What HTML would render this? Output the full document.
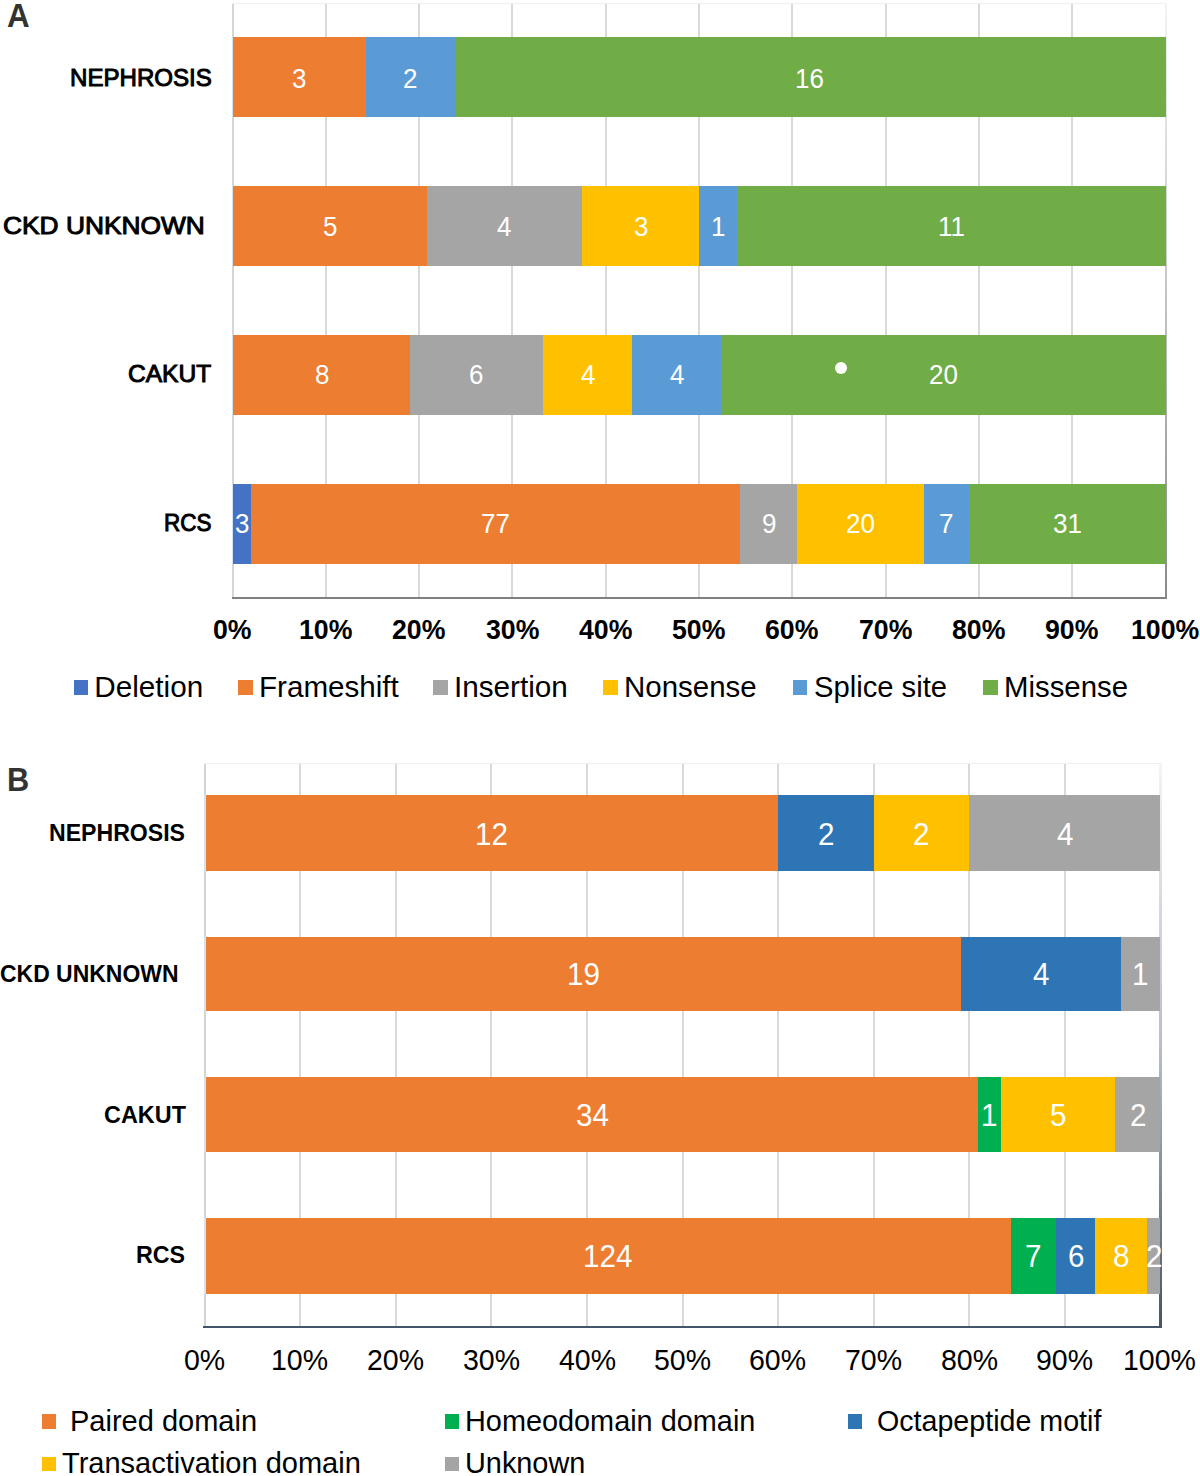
<!DOCTYPE html>
<html><head><meta charset="utf-8"><style>
html,body{margin:0;padding:0;background:#fff;}
body{width:1200px;height:1476px;position:relative;overflow:hidden;font-family:"Liberation Sans",sans-serif;}
body>div{position:absolute;}
.t{line-height:1;white-space:nowrap;transform-origin:0 0;}
</style></head><body>
<div style="left:232.00px;top:3.00px;width:935.00px;height:1.20px;background:#eef0f6;"></div>
<div style="left:324.72px;top:4.00px;width:2.00px;height:592.50px;background:#d9d9d9;"></div>
<div style="left:418.04px;top:4.00px;width:2.00px;height:592.50px;background:#d9d9d9;"></div>
<div style="left:511.36px;top:4.00px;width:2.00px;height:592.50px;background:#d9d9d9;"></div>
<div style="left:604.68px;top:4.00px;width:2.00px;height:592.50px;background:#d9d9d9;"></div>
<div style="left:698.00px;top:4.00px;width:2.00px;height:592.50px;background:#d9d9d9;"></div>
<div style="left:791.32px;top:4.00px;width:2.00px;height:592.50px;background:#d9d9d9;"></div>
<div style="left:884.64px;top:4.00px;width:2.00px;height:592.50px;background:#d9d9d9;"></div>
<div style="left:977.96px;top:4.00px;width:2.00px;height:592.50px;background:#d9d9d9;"></div>
<div style="left:1071.28px;top:4.00px;width:2.00px;height:592.50px;background:#d9d9d9;"></div>
<div style="left:231.50px;top:4.00px;width:2.00px;height:593.00px;background:#d6d6d6;"></div>
<div style="left:1164.70px;top:3.00px;width:2.50px;height:596.00px;background:linear-gradient(#f2f3f8,#c8c8cc 45%,#8a8a8a);"></div>
<div style="left:231.50px;top:37.20px;width:1.80px;height:80.00px;background:#d5e3f0;"></div>
<div style="left:233.30px;top:37.20px;width:132.41px;height:80.00px;background:#ED7D31;"></div>
<div style="left:365.71px;top:37.20px;width:88.88px;height:80.00px;background:#5B9BD5;"></div>
<div style="left:454.59px;top:37.20px;width:711.01px;height:80.00px;background:#70AD47;"></div>
<div style="left:231.50px;top:186.30px;width:1.80px;height:79.70px;background:#d5e3f0;"></div>
<div style="left:233.30px;top:186.30px;width:193.52px;height:79.70px;background:#ED7D31;"></div>
<div style="left:426.82px;top:186.30px;width:155.53px;height:79.70px;background:#A5A5A5;"></div>
<div style="left:582.35px;top:186.30px;width:116.65px;height:79.70px;background:#FFC000;"></div>
<div style="left:699.00px;top:186.30px;width:38.88px;height:79.70px;background:#5B9BD5;"></div>
<div style="left:737.88px;top:186.30px;width:427.72px;height:79.70px;background:#70AD47;"></div>
<div style="left:231.50px;top:335.30px;width:1.80px;height:79.30px;background:#d5e3f0;"></div>
<div style="left:233.30px;top:335.30px;width:176.85px;height:79.30px;background:#ED7D31;"></div>
<div style="left:410.15px;top:335.30px;width:133.31px;height:79.30px;background:#A5A5A5;"></div>
<div style="left:543.47px;top:335.30px;width:88.88px;height:79.30px;background:#FFC000;"></div>
<div style="left:632.34px;top:335.30px;width:88.88px;height:79.30px;background:#5B9BD5;"></div>
<div style="left:721.22px;top:335.30px;width:444.38px;height:79.30px;background:#70AD47;"></div>
<div style="left:231.50px;top:484.00px;width:1.80px;height:79.80px;background:#d5e3f0;"></div>
<div style="left:233.30px;top:484.00px;width:18.14px;height:79.80px;background:#4472C4;"></div>
<div style="left:251.44px;top:484.00px;width:488.82px;height:79.80px;background:#ED7D31;"></div>
<div style="left:740.26px;top:484.00px;width:57.13px;height:79.80px;background:#A5A5A5;"></div>
<div style="left:797.40px;top:484.00px;width:126.97px;height:79.80px;background:#FFC000;"></div>
<div style="left:924.36px;top:484.00px;width:44.44px;height:79.80px;background:#5B9BD5;"></div>
<div style="left:968.80px;top:484.00px;width:196.80px;height:79.80px;background:#70AD47;"></div>
<div style="left:231.50px;top:596.80px;width:935.70px;height:2.20px;background:#808080;"></div>
<div style="left:834.7px;top:361.7px;width:12px;height:12px;border-radius:50%;background:#fff"></div>
<div class="t" style="left:292.36px;top:65.51px;font-size:26.8px;font-weight:normal;color:#fff;transform:scale(0.9700,1.0000);">3</div>
<div class="t" style="left:402.93px;top:65.51px;font-size:26.8px;font-weight:normal;color:#fff;transform:scale(0.9700,1.0000);">2</div>
<div class="t" style="left:795.23px;top:65.51px;font-size:26.8px;font-weight:normal;color:#fff;transform:scale(0.9700,1.0000);">16</div>
<div class="t" style="left:322.86px;top:214.31px;font-size:26.8px;font-weight:normal;color:#fff;transform:scale(0.9700,1.0000);">5</div>
<div class="t" style="left:497.43px;top:214.31px;font-size:26.8px;font-weight:normal;color:#fff;transform:scale(0.9700,1.0000);">4</div>
<div class="t" style="left:633.53px;top:214.31px;font-size:26.8px;font-weight:normal;color:#fff;transform:scale(0.9700,1.0000);">3</div>
<div class="t" style="left:710.86px;top:214.31px;font-size:26.8px;font-weight:normal;color:#fff;transform:scale(0.9700,1.0000);">1</div>
<div class="t" style="left:937.90px;top:214.31px;font-size:26.8px;font-weight:normal;color:#fff;transform:scale(0.9700,1.0000);">11</div>
<div class="t" style="left:314.50px;top:362.01px;font-size:26.8px;font-weight:normal;color:#fff;transform:scale(0.9700,1.0000);">8</div>
<div class="t" style="left:469.49px;top:362.01px;font-size:26.8px;font-weight:normal;color:#fff;transform:scale(0.9700,1.0000);">6</div>
<div class="t" style="left:580.76px;top:362.01px;font-size:26.8px;font-weight:normal;color:#fff;transform:scale(0.9700,1.0000);">4</div>
<div class="t" style="left:669.63px;top:362.01px;font-size:26.8px;font-weight:normal;color:#fff;transform:scale(0.9700,1.0000);">4</div>
<div class="t" style="left:928.81px;top:362.01px;font-size:26.8px;font-weight:normal;color:#fff;transform:scale(0.9700,1.0000);">20</div>
<div class="t" style="left:235.22px;top:510.71px;font-size:26.8px;font-weight:normal;color:#fff;transform:scale(0.9700,1.0000);">3</div>
<div class="t" style="left:481.39px;top:510.71px;font-size:26.8px;font-weight:normal;color:#fff;transform:scale(0.9700,1.0000);">77</div>
<div class="t" style="left:761.60px;top:510.71px;font-size:26.8px;font-weight:normal;color:#fff;transform:scale(0.9700,1.0000);">9</div>
<div class="t" style="left:846.28px;top:510.71px;font-size:26.8px;font-weight:normal;color:#fff;transform:scale(0.9700,1.0000);">20</div>
<div class="t" style="left:939.34px;top:510.71px;font-size:26.8px;font-weight:normal;color:#fff;transform:scale(0.9700,1.0000);">7</div>
<div class="t" style="left:1052.89px;top:510.71px;font-size:26.8px;font-weight:normal;color:#fff;transform:scale(0.9700,1.0000);">31</div>
<div class="t" style="left:69.74px;top:66.17px;font-size:24.6px;font-weight:normal;color:#000;transform:scale(0.9791,1.0000);-webkit-text-stroke:1.0px #000;">NEPHROSIS</div>
<div class="t" style="left:3.02px;top:213.57px;font-size:24.6px;font-weight:normal;color:#000;transform:scale(1.0707,1.0000);-webkit-text-stroke:1.0px #000;">CKD UNKNOWN</div>
<div class="t" style="left:127.88px;top:362.37px;font-size:24.6px;font-weight:normal;color:#000;transform:scale(0.9977,1.0000);-webkit-text-stroke:1.0px #000;">CAKUT</div>
<div class="t" style="left:164.12px;top:511.17px;font-size:24.6px;font-weight:normal;color:#000;transform:scale(0.9131,1.0000);-webkit-text-stroke:1.0px #000;">RCS</div>
<div class="t" style="left:7.22px;top:-1.24px;font-size:33px;font-weight:bold;color:#333;transform:scale(0.9500,1.0000);">A</div>
<div class="t" style="left:212.91px;top:615.70px;font-size:27.4px;font-weight:bold;color:#000;transform:scale(0.9750,1.0000);">0%</div>
<div class="t" style="left:298.50px;top:615.70px;font-size:27.4px;font-weight:bold;color:#000;transform:scale(0.9750,1.0000);">10%</div>
<div class="t" style="left:392.19px;top:615.70px;font-size:27.4px;font-weight:bold;color:#000;transform:scale(0.9750,1.0000);">20%</div>
<div class="t" style="left:485.67px;top:615.70px;font-size:27.4px;font-weight:bold;color:#000;transform:scale(0.9750,1.0000);">30%</div>
<div class="t" style="left:579.10px;top:615.70px;font-size:27.4px;font-weight:bold;color:#000;transform:scale(0.9750,1.0000);">40%</div>
<div class="t" style="left:672.20px;top:615.70px;font-size:27.4px;font-weight:bold;color:#000;transform:scale(0.9750,1.0000);">50%</div>
<div class="t" style="left:765.44px;top:615.70px;font-size:27.4px;font-weight:bold;color:#000;transform:scale(0.9750,1.0000);">60%</div>
<div class="t" style="left:858.68px;top:615.70px;font-size:27.4px;font-weight:bold;color:#000;transform:scale(0.9750,1.0000);">70%</div>
<div class="t" style="left:952.15px;top:615.70px;font-size:27.4px;font-weight:bold;color:#000;transform:scale(0.9750,1.0000);">80%</div>
<div class="t" style="left:1045.43px;top:615.70px;font-size:27.4px;font-weight:bold;color:#000;transform:scale(0.9750,1.0000);">90%</div>
<div class="t" style="left:1130.95px;top:615.70px;font-size:27.4px;font-weight:bold;color:#000;transform:scale(0.9750,1.0000);">100%</div>
<div style="left:73.75px;top:680.30px;width:14.50px;height:15.10px;background:#4472C4;"></div>
<div class="t" style="left:94.26px;top:671.55px;font-size:29.7px;font-weight:normal;color:#000;">Deletion</div>
<div style="left:238.30px;top:680.30px;width:14.50px;height:15.10px;background:#ED7D31;"></div>
<div class="t" style="left:259.27px;top:671.55px;font-size:29.7px;font-weight:normal;color:#000;transform:scale(0.9970,1.0000);">Frameshift</div>
<div style="left:433.30px;top:680.30px;width:14.50px;height:15.10px;background:#A5A5A5;"></div>
<div class="t" style="left:453.97px;top:671.55px;font-size:29.7px;font-weight:normal;color:#000;">Insertion</div>
<div style="left:603.30px;top:680.30px;width:14.50px;height:15.10px;background:#FFC000;"></div>
<div class="t" style="left:623.58px;top:671.55px;font-size:29.7px;font-weight:normal;color:#000;transform:scale(0.9920,1.0000);">Nonsense</div>
<div style="left:792.70px;top:680.30px;width:14.50px;height:15.10px;background:#5B9BD5;"></div>
<div class="t" style="left:813.66px;top:671.55px;font-size:29.7px;font-weight:normal;color:#000;transform:scale(0.9830,1.0000);">Splice site</div>
<div style="left:983.30px;top:680.30px;width:14.50px;height:15.10px;background:#70AD47;"></div>
<div class="t" style="left:1003.59px;top:671.55px;font-size:29.7px;font-weight:normal;color:#000;transform:scale(0.9890,1.0000);">Missense</div>
<div style="left:204.00px;top:763.00px;width:957.70px;height:1.20px;background:#eef0f6;"></div>
<div style="left:299.10px;top:764.00px;width:2.00px;height:561.50px;background:#d9d9d9;"></div>
<div style="left:394.70px;top:764.00px;width:2.00px;height:561.50px;background:#d9d9d9;"></div>
<div style="left:490.30px;top:764.00px;width:2.00px;height:561.50px;background:#d9d9d9;"></div>
<div style="left:585.90px;top:764.00px;width:2.00px;height:561.50px;background:#d9d9d9;"></div>
<div style="left:681.50px;top:764.00px;width:2.00px;height:561.50px;background:#d9d9d9;"></div>
<div style="left:777.10px;top:764.00px;width:2.00px;height:561.50px;background:#d9d9d9;"></div>
<div style="left:872.70px;top:764.00px;width:2.00px;height:561.50px;background:#d9d9d9;"></div>
<div style="left:968.30px;top:764.00px;width:2.00px;height:561.50px;background:#d9d9d9;"></div>
<div style="left:1063.90px;top:764.00px;width:2.00px;height:561.50px;background:#d9d9d9;"></div>
<div style="left:204.00px;top:763.50px;width:2.00px;height:562.50px;background:#d4d4d4;"></div>
<div style="left:1158.90px;top:763.00px;width:2.80px;height:565.30px;background:linear-gradient(#f2f4f8,#b8bfca 50%,#44546A);"></div>
<div style="left:204.00px;top:794.80px;width:2.00px;height:76.00px;background:#d5e3f0;"></div>
<div style="left:206.00px;top:794.80px;width:572.10px;height:76.00px;background:#ED7D31;"></div>
<div style="left:778.10px;top:794.80px;width:95.60px;height:76.00px;background:#2E75B6;"></div>
<div style="left:873.70px;top:794.80px;width:95.60px;height:76.00px;background:#FFC000;"></div>
<div style="left:969.30px;top:794.80px;width:191.20px;height:76.00px;background:#A5A5A5;"></div>
<div style="left:204.00px;top:937.10px;width:2.00px;height:74.10px;background:#d5e3f0;"></div>
<div style="left:206.00px;top:937.10px;width:755.33px;height:74.10px;background:#ED7D31;"></div>
<div style="left:961.33px;top:937.10px;width:159.33px;height:74.10px;background:#2E75B6;"></div>
<div style="left:1120.67px;top:937.10px;width:39.83px;height:74.10px;background:#A5A5A5;"></div>
<div style="left:204.00px;top:1077.40px;width:2.00px;height:74.50px;background:#d5e3f0;"></div>
<div style="left:206.00px;top:1077.40px;width:772.40px;height:74.50px;background:#ED7D31;"></div>
<div style="left:978.40px;top:1077.40px;width:22.76px;height:74.50px;background:#00B050;"></div>
<div style="left:1001.17px;top:1077.40px;width:113.81px;height:74.50px;background:#FFC000;"></div>
<div style="left:1114.98px;top:1077.40px;width:45.52px;height:74.50px;background:#A5A5A5;"></div>
<div style="left:204.00px;top:1218.30px;width:2.00px;height:75.80px;background:#d5e3f0;"></div>
<div style="left:206.00px;top:1218.30px;width:804.92px;height:75.80px;background:#ED7D31;"></div>
<div style="left:1010.92px;top:1218.30px;width:45.52px;height:75.80px;background:#00B050;"></div>
<div style="left:1056.45px;top:1218.30px;width:39.02px;height:75.80px;background:#2E75B6;"></div>
<div style="left:1095.47px;top:1218.30px;width:52.03px;height:75.80px;background:#FFC000;"></div>
<div style="left:1147.49px;top:1218.30px;width:13.01px;height:75.80px;background:#A5A5A5;"></div>
<div class="t" style="left:475.20px;top:818.95px;font-size:31.0px;font-weight:normal;color:#fff;transform:scale(0.9550,1.0000);">12</div>
<div class="t" style="left:817.67px;top:818.95px;font-size:31.0px;font-weight:normal;color:#fff;transform:scale(0.9550,1.0000);">2</div>
<div class="t" style="left:913.27px;top:818.95px;font-size:31.0px;font-weight:normal;color:#fff;transform:scale(0.9550,1.0000);">2</div>
<div class="t" style="left:1056.76px;top:818.95px;font-size:31.0px;font-weight:normal;color:#fff;transform:scale(0.9550,1.0000);">4</div>
<div class="t" style="left:566.78px;top:959.35px;font-size:31.0px;font-weight:normal;color:#fff;transform:scale(0.9550,1.0000);">19</div>
<div class="t" style="left:1032.86px;top:959.35px;font-size:31.0px;font-weight:normal;color:#fff;transform:scale(0.9550,1.0000);">4</div>
<div class="t" style="left:1131.95px;top:959.35px;font-size:31.0px;font-weight:normal;color:#fff;transform:scale(0.9550,1.0000);">1</div>
<div class="t" style="left:575.61px;top:1100.15px;font-size:31.0px;font-weight:normal;color:#fff;transform:scale(0.9550,1.0000);">34</div>
<div class="t" style="left:981.16px;top:1100.15px;font-size:31.0px;font-weight:normal;color:#fff;transform:scale(0.9550,1.0000);">1</div>
<div class="t" style="left:1049.87px;top:1100.15px;font-size:31.0px;font-weight:normal;color:#fff;transform:scale(0.9550,1.0000);">5</div>
<div class="t" style="left:1129.51px;top:1100.15px;font-size:31.0px;font-weight:normal;color:#fff;transform:scale(0.9550,1.0000);">2</div>
<div class="t" style="left:583.07px;top:1240.85px;font-size:31.0px;font-weight:normal;color:#fff;transform:scale(0.9550,1.0000);">124</div>
<div class="t" style="left:1025.44px;top:1240.85px;font-size:31.0px;font-weight:normal;color:#fff;transform:scale(0.9550,1.0000);">7</div>
<div class="t" style="left:1067.62px;top:1240.85px;font-size:31.0px;font-weight:normal;color:#fff;transform:scale(0.9550,1.0000);">6</div>
<div class="t" style="left:1113.25px;top:1240.85px;font-size:31.0px;font-weight:normal;color:#fff;transform:scale(0.9550,1.0000);">8</div>
<div class="t" style="left:1145.77px;top:1240.85px;font-size:31.0px;font-weight:normal;color:#fff;transform:scale(0.9550,1.0000);">2</div>
<div style="left:203.00px;top:1325.50px;width:958.70px;height:2.80px;background:#44546A;"></div>
<div class="t" style="left:49.29px;top:822.33px;font-size:23.0px;font-weight:bold;color:#000;transform:scale(1.0040,1.0000);">NEPHROSIS</div>
<div class="t" style="left:0.02px;top:962.63px;font-size:23.0px;font-weight:bold;color:#000;transform:scale(0.9980,1.0000);">CKD UNKNOWN</div>
<div class="t" style="left:103.91px;top:1103.63px;font-size:23.0px;font-weight:bold;color:#000;transform:scale(1.0180,1.0000);">CAKUT</div>
<div class="t" style="left:136.22px;top:1244.33px;font-size:23.0px;font-weight:bold;color:#000;transform:scale(1.0110,1.0000);">RCS</div>
<div class="t" style="left:6.69px;top:763.56px;font-size:32.7px;font-weight:bold;color:#333;transform:scale(0.9400,1.0000);">B</div>
<div class="t" style="left:183.85px;top:1346.25px;font-size:29.0px;font-weight:normal;color:#000;transform:scale(0.9830,1.0000);">0%</div>
<div class="t" style="left:270.99px;top:1346.25px;font-size:29.0px;font-weight:normal;color:#000;transform:scale(0.9830,1.0000);">10%</div>
<div class="t" style="left:366.96px;top:1346.25px;font-size:29.0px;font-weight:normal;color:#000;transform:scale(0.9830,1.0000);">20%</div>
<div class="t" style="left:462.74px;top:1346.25px;font-size:29.0px;font-weight:normal;color:#000;transform:scale(0.9830,1.0000);">30%</div>
<div class="t" style="left:558.55px;top:1346.25px;font-size:29.0px;font-weight:normal;color:#000;transform:scale(0.9830,1.0000);">40%</div>
<div class="t" style="left:653.91px;top:1346.25px;font-size:29.0px;font-weight:normal;color:#000;transform:scale(0.9830,1.0000);">50%</div>
<div class="t" style="left:749.35px;top:1346.25px;font-size:29.0px;font-weight:normal;color:#000;transform:scale(0.9830,1.0000);">60%</div>
<div class="t" style="left:844.95px;top:1346.25px;font-size:29.0px;font-weight:normal;color:#000;transform:scale(0.9830,1.0000);">70%</div>
<div class="t" style="left:940.66px;top:1346.25px;font-size:29.0px;font-weight:normal;color:#000;transform:scale(0.9830,1.0000);">80%</div>
<div class="t" style="left:1036.21px;top:1346.25px;font-size:29.0px;font-weight:normal;color:#000;transform:scale(0.9830,1.0000);">90%</div>
<div class="t" style="left:1123.47px;top:1346.25px;font-size:29.0px;font-weight:normal;color:#000;transform:scale(0.9830,1.0000);">100%</div>
<div style="left:42.10px;top:1414.00px;width:14.00px;height:14.50px;background:#ED7D31;"></div>
<div class="t" style="left:69.72px;top:1405.59px;font-size:29.3px;font-weight:normal;color:#000;transform:scale(0.9900,1.0000);">Paired domain</div>
<div style="left:445.00px;top:1414.00px;width:14.00px;height:14.50px;background:#00B050;"></div>
<div class="t" style="left:464.93px;top:1405.59px;font-size:29.3px;font-weight:normal;color:#000;transform:scale(0.9850,1.0000);">Homeodomain domain</div>
<div style="left:847.90px;top:1414.30px;width:14.00px;height:14.50px;background:#2E75B6;"></div>
<div class="t" style="left:876.65px;top:1405.59px;font-size:29.3px;font-weight:normal;color:#000;transform:scale(0.9770,1.0000);">Octapeptide motif</div>
<div style="left:42.10px;top:1456.70px;width:14.00px;height:14.50px;background:#FFC000;"></div>
<div class="t" style="left:62.26px;top:1448.09px;font-size:29.3px;font-weight:normal;color:#000;transform:scale(0.9900,1.0000);">Transactivation domain</div>
<div style="left:445.00px;top:1456.70px;width:14.00px;height:14.50px;background:#A5A5A5;"></div>
<div class="t" style="left:465.08px;top:1448.09px;font-size:29.3px;font-weight:normal;color:#000;transform:scale(0.9850,1.0000);">Unknown</div>
</body></html>
